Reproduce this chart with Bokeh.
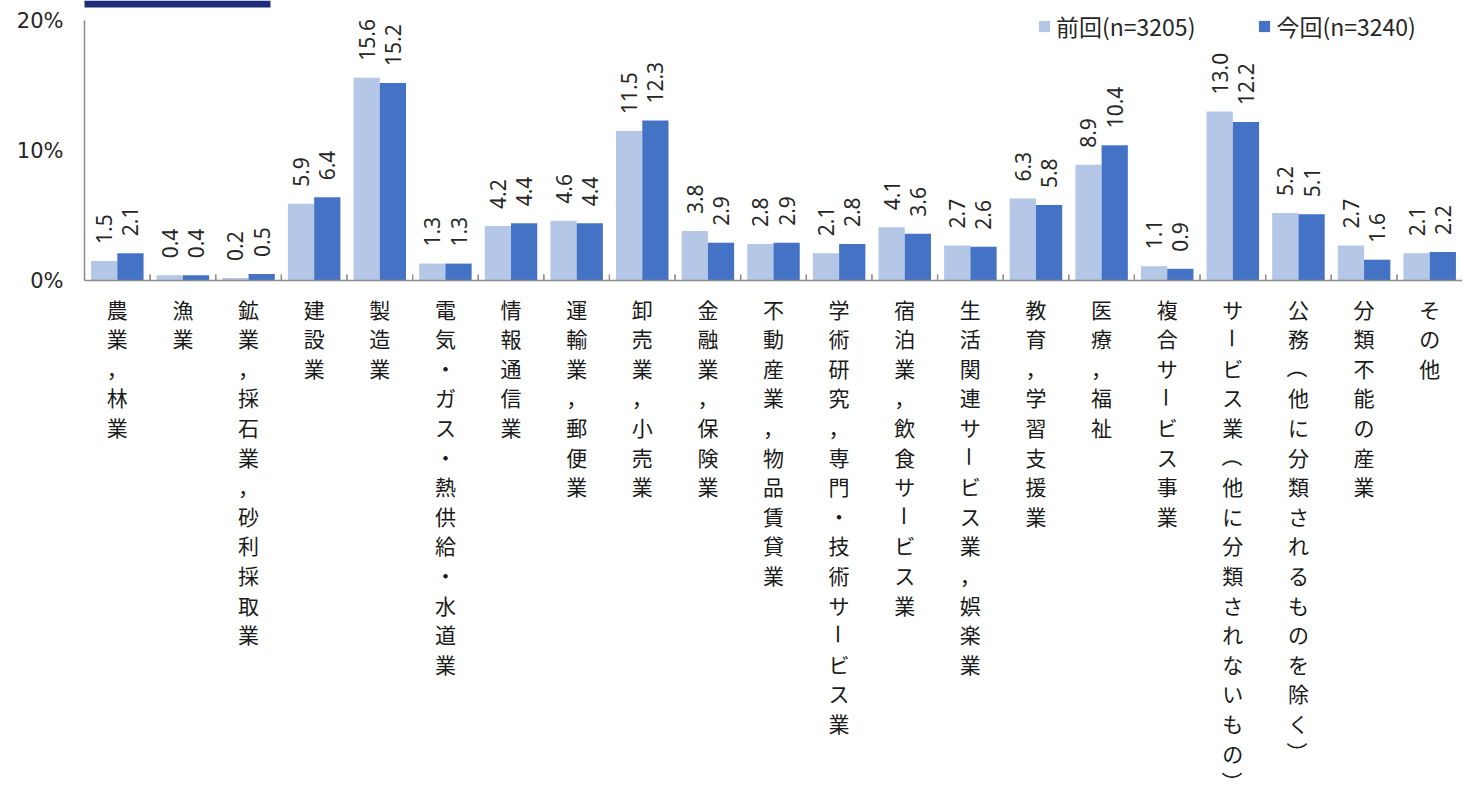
import math
from bokeh.plotting import figure
from bokeh.models import (ColumnDataSource, FactorRange, Range1d, Span,
                          FixedTicker, PrintfTickFormatter, BoxAnnotation)
from bokeh.transform import dodge
from bokeh.core.properties import value
from bokeh.embed import file_html
from bokeh.resources import INLINE

# ---------------- data ----------------
categories = [
    "農業，林業", "漁業", "鉱業，採石業，砂利採取業", "建設業", "製造業",
    "電気・ガス・熱供給・水道業", "情報通信業", "運輸業，郵便業", "卸売業，小売業",
    "金融業，保険業", "不動産業，物品賃貸業", "学術研究，専門・技術サービス業",
    "宿泊業，飲食サービス業", "生活関連サービス業，娯楽業", "教育，学習支援業",
    "医療，福祉", "複合サービス事業", "サービス業（他に分類されないもの）",
    "公務（他に分類されるものを除く）", "分類不能の産業", "その他",
]
prev_values = [1.5, 0.4, 0.2, 5.9, 15.6, 1.3, 4.2, 4.6, 11.5, 3.8, 2.8,
               2.1, 4.1, 2.7, 6.3, 8.9, 1.1, 13.0, 5.2, 2.7, 2.1]
curr_values = [2.1, 0.4, 0.5, 6.4, 15.2, 1.3, 4.4, 4.4, 12.3, 2.9, 2.9,
               2.8, 3.6, 2.6, 5.8, 10.4, 0.9, 12.2, 5.1, 1.6, 2.2]
series_names = ["前回(n=3205)", "今回(n=3240)"]
y_ticks = [0, 10, 20]

# ---------------- style ----------------
LIGHT = "#B4C7E7"
DARK = "#4472C4"
NAVY = "#1F2B7B"
AXIS_COLOR = "#8C8C8C"
TEXT_COLOR = "#262626"
JP_FONT = "Noto Sans CJK JP"
NUM_FONT = "Noto Sans"
PX_PER_UNIT = 13.0
CANVAS_W, CANVAS_H = 1462, 797
LEFT = 84
Y_TOP = 20 + 20 / PX_PER_UNIT
Y_BOTTOM = Y_TOP - CANVAS_H / PX_PER_UNIT
TICK_LEN = 6 / PX_PER_UNIT
CHAR_TOP = 28     # px below axis for first char centre
CHAR_STEP = 29.6  # px between stacked chars
ROTATED = set("ー（）")

src = ColumnDataSource(dict(
    cat=categories,
    prev=prev_values,
    curr=curr_values,
    prev_lbl=[f"{v:.1f}" for v in prev_values],
    curr_lbl=[f"{v:.1f}" for v in curr_values],
))

p = figure(
    x_range=FactorRange(*categories),
    y_range=Range1d(Y_BOTTOM, Y_TOP),
    width=CANVAS_W, height=CANVAS_H,
    min_border_left=LEFT, min_border_right=0,
    min_border_top=0, min_border_bottom=0,
    x_axis_location=None,
    output_backend="svg", toolbar_location=None,
)
p.outline_line_color = None
p.xgrid.visible = False
p.ygrid.visible = False

p.vbar(x=dodge("cat", -0.2, range=p.x_range), top="prev", width=0.4,
       fill_color=LIGHT, line_color=None, source=src,
       legend_label=series_names[0])
p.vbar(x=dodge("cat", 0.2, range=p.x_range), top="curr", width=0.4,
       fill_color=DARK, line_color=None, source=src,
       legend_label=series_names[1])

for off, col in ((-0.2, "prev"), (0.2, "curr")):
    p.text(x=dodge("cat", off, range=p.x_range), y=col, text=col + "_lbl",
           source=src, angle=math.pi / 2, text_align="left",
           text_baseline="middle", y_offset=-17,
           text_font=value(NUM_FONT), text_font_size="21px",
           text_color=TEXT_COLOR)

# stacked (vertical) category labels
cx, ch, offs, angs = [], [], [], []
for cat in categories:
    for i, c in enumerate(cat):
        cx.append(cat)
        ch.append(c)
        offs.append(CHAR_TOP + i * CHAR_STEP)
        angs.append(-math.pi / 2 if c in ROTATED else 0.0)
lab_src = ColumnDataSource(dict(x=cx, ch=ch, off=offs, ang=angs))
p.text(x="x", y=0, text="ch", y_offset="off", angle="ang", source=lab_src,
       text_align="center", text_baseline="middle",
       text_font=value(JP_FONT), text_font_size="21px",
       text_color="#1A1A1A")

# y axis
ya = p.yaxis[0]
ya.ticker = FixedTicker(ticks=y_ticks)
ya.formatter = PrintfTickFormatter(format="%d%%")
ya.bounds = (0, 20)
ya.major_tick_in = 0
ya.major_tick_out = 0
ya.minor_tick_in = 0
ya.minor_tick_out = 0
ya.axis_line_color = AXIS_COLOR
ya.axis_line_width = 1.5
ya.major_label_standoff = 21
ya.major_label_text_font = "DejaVu Sans"
ya.major_label_text_font_size = "21px"
ya.major_label_text_color = TEXT_COLOR

# baseline at y = 0 with ticks at category boundaries
p.add_layout(Span(location=0, dimension="width", line_color=AXIS_COLOR,
                  line_width=1.5))
for off in (-0.5, 0.5):
    p.segment(x0=dodge("cat", off, range=p.x_range),
              x1=dodge("cat", off, range=p.x_range),
              y0=0, y1=TICK_LEN, source=src,
              line_color=AXIS_COLOR, line_width=1.2)

# decorative title-box edge at top left
p.add_layout(BoxAnnotation(left=75, right=270, top=0, bottom=7,
                           left_units="canvas", right_units="canvas",
                           top_units="canvas", bottom_units="canvas",
                           fill_color=NAVY, fill_alpha=1, line_color=None))

# legend
lg = p.legend[0]
lg.orientation = "horizontal"
lg.background_fill_alpha = 0
lg.border_line_alpha = 0
lg.margin = 0
lg.padding = 0
lg.spacing = 62
lg.glyph_width = 14
lg.glyph_height = 14
lg.label_height = 30
lg.label_standoff = 5
lg.label_text_font = JP_FONT
lg.label_text_font_size = "23px"
lg.label_text_color = TEXT_COLOR
lg.location = (1037 - LEFT, CANVAS_H - 43)

open("out.html", "w").write(file_html(p, INLINE))
